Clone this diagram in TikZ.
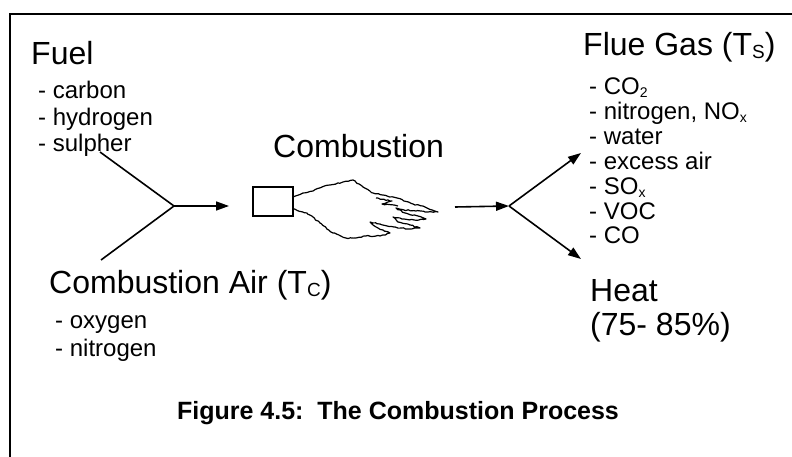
\documentclass[tikz,border=0pt]{standalone}
\usepackage{fontspec}
\setmainfont{Liberation Sans}
\usetikzlibrary{arrows.meta, decorations.pathmorphing}
\newcommand{\bigsub}[1]{\raisebox{-3pt}{\fontsize{19}{19}\selectfont #1}}
\newcommand{\smallsub}[1]{\raisebox{-3pt}{\fontsize{14}{14}\selectfont #1}}

\begin{document}
\pgfmathsetseed{11}
\begin{tikzpicture}[x=1pt, y=-1pt, >={Triangle[length=13pt, width=9pt]},
		title/.style={anchor=base west, inner sep=0pt, font=\fontsize{32}{36}\selectfont},
		entry/.style={anchor=base west, inner sep=0pt, font=\fontsize{24}{27}\selectfont},
		flow/.style={line width=1.6pt},
		ragged/.style={line width=1.2pt, line join=round, decorate, decoration={random steps, segment length=2.5pt, amplitude=0.6pt}}]
	\useasboundingbox (0,0) rectangle (792,457);
	\draw[line width=2.6pt] (10,13.2) -- (10,457); \draw[line width=1.8pt] (10,14) -- (792,14);
	
	% fuel and air in
	\node[title] (fuel) at (31,65) {Fuel};
	\foreach \t [count=\i] in {carbon, hydrogen, sulpher} \node[entry] (fuel\i) at (38,{99+26.5*(\i-1)}) {- \t};
	\node[title] (air) at (49,293) {Combustion Air (T\bigsub{C})};
	\node[entry] (air1) at (55,328) {- oxygen}; \node[entry] (air2) at (55,356) {- nitrogen};
	\coordinate (fuelin) at (100,152); \coordinate (airin) at (101,260);
	\coordinate (mix) at (174,206); \coordinate (feed) at (229,206);
	\draw[flow] (fuelin) -- (mix) -- (airin); \draw[flow,->] (mix) -- (feed);
	
	% burner and flame
	\node[title] (comb) at (273,158) {Combustion};
	\node[draw, line width=1.4pt, minimum width=40, minimum height=29, inner sep=0pt] (burner) at (273,201.5) {};
	\draw[ragged] (293,197) -- (303,193) -- (313,191) -- (322,187) -- (330,185) -- (343,182) -- (353,180) -- (363,187) -- (373,193) -- (387,196) -- (397,198) -- (413,204) -- (425,207) -- (438,212) -- (428,212) -- (416,211) -- (404,210) -- (396,208) -- (405,213) -- (418,216) -- (426,219) -- (414,220) -- (402,219) -- (393,217) -- (398,222) -- (410,225) -- (420,228) -- (408,229) -- (394,227) -- (380,224) -- (370,222) -- (378,228) -- (390,233) -- (380,236) -- (366,236) -- (356,238) -- (346,238) -- (333,233) -- (320,223) -- (307,213) -- (293,209);
	\draw[ragged] (376,198) -- (392,201) -- (382,204) -- (398,206);
	
	% flue gas and heat out
	\coordinate (exhaust) at (455,207); \coordinate (split) at (509,206);
	\coordinate (gasout) at (581,153); \coordinate (heatout) at (581,259);
	\draw[flow,->] (exhaust) -- (split); \draw[flow,->] (split) -- (gasout); \draw[flow,->] (split) -- (heatout);
	\node[title] (flue) at (583,56) {Flue Gas (T\bigsub{S})};
	\foreach \t [count=\i] in {CO\smallsub{2}, {nitrogen, NO\smallsub{x}}, water, excess air, SO\smallsub{x}, VOC, CO} \node[entry] (flue\i) at (589,{95+24.8*(\i-1)}) {- \t};
	\node[title] (heat) at (590,301) {Heat}; \node[title] (share) at (590,335) {(75- 85\%)};
	
	\node[font=\bfseries\fontsize{25}{28}\selectfont, anchor=base, inner sep=0pt] (cap) at (398,419) {Figure 4.5:\ \ The Combustion Process};
\end{tikzpicture}
\end{document}
